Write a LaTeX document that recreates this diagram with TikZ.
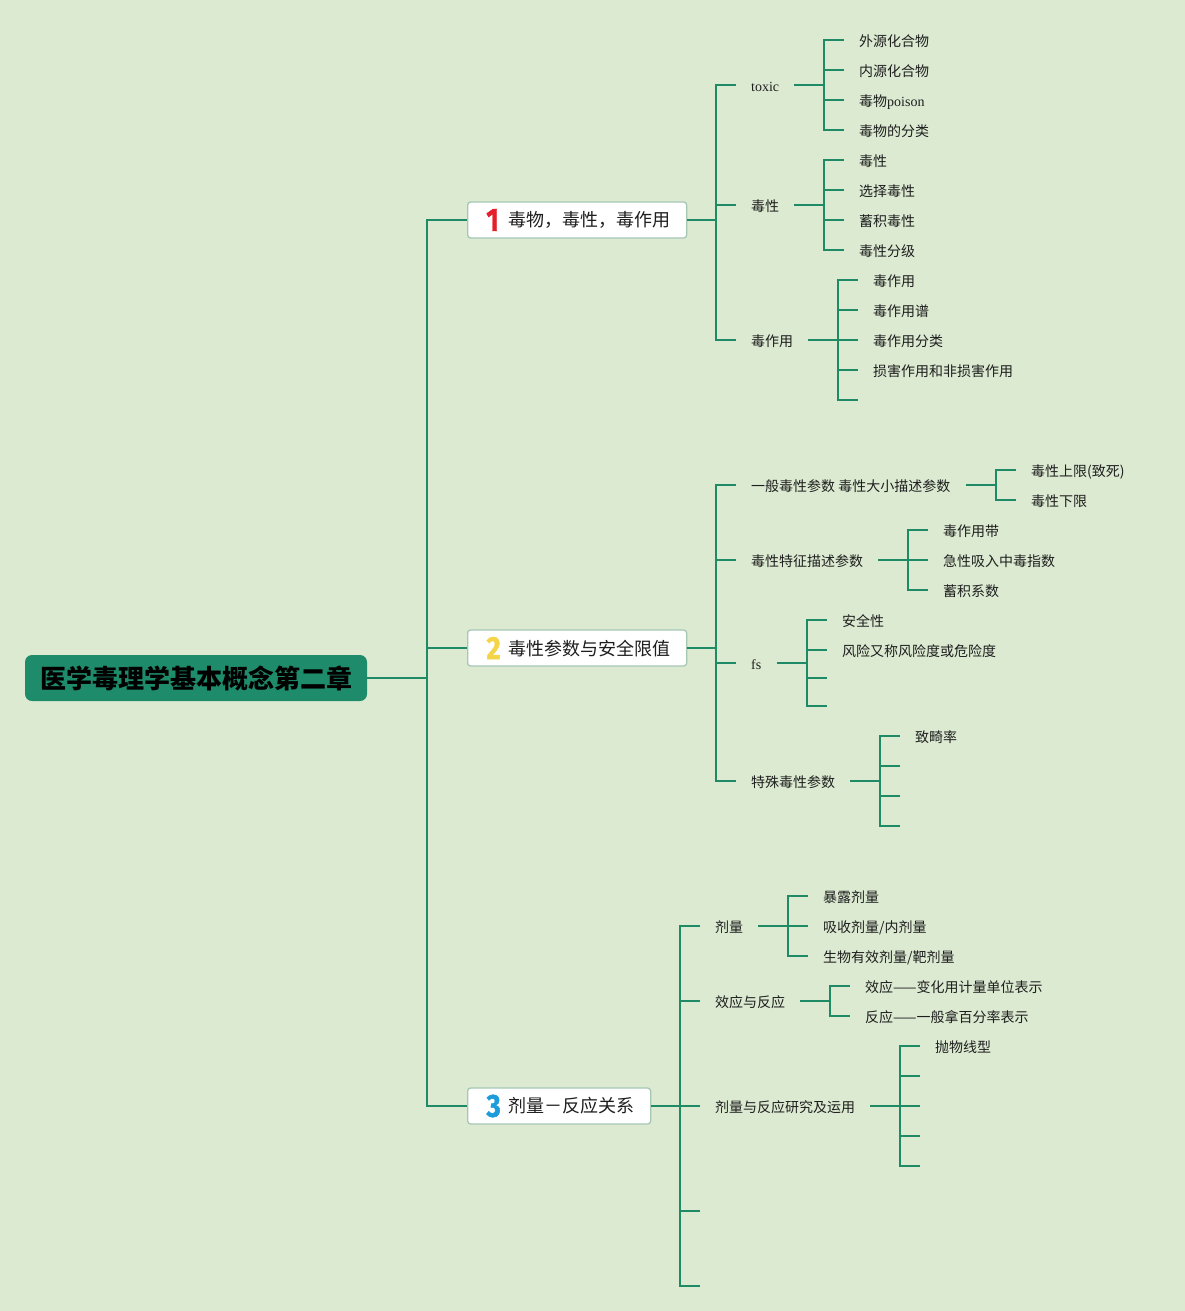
\documentclass[tikz,border=0pt]{standalone}
\usepackage{fontspec}
\setmainfont{Noto Sans CJK SC}
\newfontfamily\lat{Liberation Serif}
\newfontfamily\numf{Fira Sans}[BoldFeatures={FakeBold=1.6}]
\definecolor{bgc}{HTML}{DCEAD2}
\definecolor{lc}{HTML}{1F8A66}
\definecolor{rootc}{HTML}{1E8B6B}
\definecolor{bc}{HTML}{A6C7B4}
\definecolor{tc}{HTML}{1E1E1E}
\definecolor{n1c}{HTML}{E41E2B}
\definecolor{n2c}{HTML}{F4D548}
\definecolor{n3c}{HTML}{1E9BDA}
\newcommand\topicnum[2]{\raisebox{-4pt}{\color{#1}\scalebox{0.85}[1]{\fontsize{32}{32}\selectfont\numf\bfseries #2}}}
\begin{document}
\begin{tikzpicture}[x=1pt,y=-1pt,
  conn/.style={draw=lc, line width=2pt},
  lbl/.style={anchor=west, inner xsep=15pt, inner ysep=2pt, text height=14pt, text depth=1.4pt, font=\fontsize{14}{16}\selectfont, text=tc},
  topic/.style={anchor=west, draw=bc, line width=1.3pt, fill=white, rounded corners=3pt, minimum height=36pt, inner sep=0pt, font=\fontsize{18}{20}\selectfont, text=tc},
  rootbox/.style={fill=rootc, rounded corners=7pt, minimum width=342pt, minimum height=46pt, inner sep=0pt, font=\fontsize{26}{28}\selectfont\bfseries, text=black}]
\useasboundingbox (0,0) rectangle (1185,1311);
\fill[bgc] (0,0) rectangle (1185,1311);

% root and main topics
\node[rootbox] (root) at (196,678) {医学毒理学基本概念第二章};
\node[topic, minimum width=219pt] (b1) at (467,220) {\hspace{3pt}\topicnum{n1c}{1}\hspace{10pt}毒物，毒性，毒作用};
\node[topic, minimum width=219pt] (b2) at (467,648) {\hspace{3pt}\topicnum{n2c}{2}\hspace{8pt}毒性参数与安全限值};
\node[topic, minimum width=183pt] (b3) at (467,1106) {\hspace{3pt}\topicnum{n3c}{3}\hspace{8pt}剂量－反应关系};
\coordinate (t) at (427,678);
\draw[conn] (root.east) -- (t);
\draw[conn] (b1.west) -| (t) |- (b3.west);
\draw[conn] (t) |- (b2.west);

% ---- topic 1
\coordinate (j1) at (716,220);
\node[lbl] (toxic) at (736,85) {\lat toxic};
\node[lbl] (dx) at (736,205) {毒性};
\node[lbl] (dzy) at (736,340) {毒作用};
\draw[conn] (b1.east) -- (j1);
\draw[conn] (toxic.west) -| (j1) |- (dzy.west);
\draw[conn] (dx.west) -- (dx.west -| j1);

\coordinate (j11) at (824,85);
\node[lbl] (a1) at (844,40) {外源化合物};
\node[lbl] (a2) at (844,70) {内源化合物};
\node[lbl] (a3) at (844,100) {毒物{\lat poison}};
\node[lbl] (a4) at (844,130) {毒物的分类};
\draw[conn] (toxic.east) -- (j11);
\draw[conn] (a1.west) -| (j11) |- (a4.west);
\draw[conn] (a2.west) -- (a2.west -| j11);
\draw[conn] (a3.west) -- (a3.west -| j11);

\coordinate (j12) at (824,205);
\node[lbl] (c1) at (844,160) {毒性};
\node[lbl] (c2) at (844,190) {选择毒性};
\node[lbl] (c3) at (844,220) {蓄积毒性};
\node[lbl] (c4) at (844,250) {毒性分级};
\draw[conn] (dx.east) -- (j12);
\draw[conn] (c1.west) -| (j12) |- (c4.west);
\draw[conn] (c2.west) -- (c2.west -| j12);
\draw[conn] (c3.west) -- (c3.west -| j12);

\coordinate (j13) at (838,340);
\node[lbl] (d1) at (858,280) {毒作用};
\node[lbl] (d2) at (858,310) {毒作用谱};
\node[lbl] (d3) at (858,340) {毒作用分类};
\node[lbl] (d4) at (858,370) {损害作用和非损害作用};
\coordinate (d5) at (858,400);
\draw[conn] (dzy.east) -- (j13);
\draw[conn] (d1.west) -| (j13) |- (d5);
\draw[conn] (d2.west) -- (d2.west -| j13);
\draw[conn] (d3.west) -- (d3.west -| j13);
\draw[conn] (d4.west) -- (d4.west -| j13);

% ---- topic 2
\coordinate (j2) at (716,648);
\node[lbl] (e1) at (736,485) {一般毒性参数 毒性大小描述参数};
\node[lbl] (e2) at (736,560) {毒性特征描述参数};
\node[lbl] (e3) at (736,663) {\lat fs};
\node[lbl] (e4) at (736,781) {特殊毒性参数};
\draw[conn] (b2.east) -- (j2);
\draw[conn] (e1.west) -| (j2) |- (e4.west);
\draw[conn] (e2.west) -- (e2.west -| j2);
\draw[conn] (e3.west) -- (e3.west -| j2);

\coordinate (j21) at (996,485);
\node[lbl] (f1) at (1016,470) {毒性上限(致死)};
\node[lbl] (f2) at (1016,500) {毒性下限};
\draw[conn] (e1.east) -- (j21);
\draw[conn] (f1.west) -| (j21) |- (f2.west);

\coordinate (j22) at (908,560);
\node[lbl] (g1) at (928,530) {毒作用带};
\node[lbl] (g2) at (928,560) {急性吸入中毒指数};
\node[lbl] (g3) at (928,590) {蓄积系数};
\draw[conn] (e2.east) -- (j22);
\draw[conn] (g1.west) -| (j22) |- (g3.west);
\draw[conn] (g2.west) -- (g2.west -| j22);

\coordinate (j23) at (807,663);
\node[lbl] (h1) at (827,620) {安全性};
\node[lbl] (h2) at (827,650) {风险又称风险度或危险度};
\coordinate (h3) at (827,678);
\coordinate (h4) at (827,706);
\draw[conn] (e3.east) -- (j23);
\draw[conn] (h1.west) -| (j23) |- (h4);
\draw[conn] (h2.west) -- (h2.west -| j23);
\draw[conn] (h3) -- (h3 -| j23);

\coordinate (j24) at (880,781);
\node[lbl] (i1) at (900,736) {致畸率};
\coordinate (i2) at (900,766);
\coordinate (i3) at (900,796);
\coordinate (i4) at (900,826);
\draw[conn] (e4.east) -- (j24);
\draw[conn] (i1.west) -| (j24) |- (i4);
\draw[conn] (i2) -- (i2 -| j24);
\draw[conn] (i3) -- (i3 -| j24);

% ---- topic 3
\coordinate (j3) at (680,1106);
\node[lbl] (k1) at (700,926) {剂量};
\node[lbl] (k2) at (700,1001) {效应与反应};
\node[lbl] (k3) at (700,1106) {剂量与反应研究及运用};
\coordinate (k4) at (700,1211);
\coordinate (k5) at (700,1286);
\draw[conn] (b3.east) -- (j3);
\draw[conn] (k1.west) -| (j3) |- (k5);
\draw[conn] (k2.west) -- (k2.west -| j3);
\draw[conn] (k3.west) -- (j3);
\draw[conn] (k4) -- (k4 -| j3);

\coordinate (j31) at (788,926);
\node[lbl] (l1) at (808,896) {暴露剂量};
\node[lbl] (l2) at (808,926) {吸收剂量/内剂量};
\node[lbl] (l3) at (808,956) {生物有效剂量/靶剂量};
\draw[conn] (k1.east) -- (j31);
\draw[conn] (l1.west) -| (j31) |- (l3.west);
\draw[conn] (l2.west) -- (l2.west -| j31);

\coordinate (j32) at (830,1001);
\node[lbl] (m1) at (850,986) {效应——变化用计量单位表示};
\node[lbl] (m2) at (850,1016) {反应——一般拿百分率表示};
\draw[conn] (k2.east) -- (j32);
\draw[conn] (m1.west) -| (j32) |- (m2.west);

\coordinate (j33) at (900,1106);
\node[lbl] (n1) at (920,1046) {抛物线型};
\coordinate (n2) at (920,1076);
\coordinate (n3) at (920,1106);
\coordinate (n4) at (920,1136);
\coordinate (n5) at (920,1166);
\draw[conn] (k3.east) -- (j33);
\draw[conn] (n1.west) -| (j33) |- (n5);
\draw[conn] (n2) -- (n2 -| j33);
\draw[conn] (n3) -- (j33);
\draw[conn] (n4) -- (n4 -| j33);
\end{tikzpicture}
\end{document}
